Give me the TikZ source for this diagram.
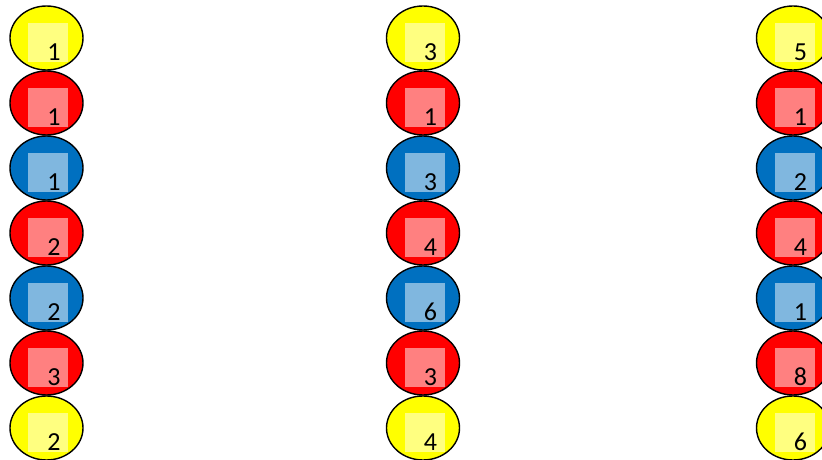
\documentclass[tikz,border=0pt]{standalone}
\usepackage{fontspec}
\setmainfont{Carlito}
\usepackage{xcolor}
\usetikzlibrary{shapes.geometric,positioning,calc}

\definecolor{beadyellow}{HTML}{FFFF00}
\definecolor{beadred}{HTML}{FF0000}
\definecolor{beadblue}{HTML}{0070C0}

\tikzset{
  bead/.style={ellipse, draw=black, line width=1.4pt, minimum width=73pt, minimum height=64pt, inner sep=0pt},
  patch/.style={rectangle, fill=white, fill opacity=0.5, minimum width=40pt, minimum height=39pt, inner sep=0pt},
  tag/.style={anchor=base, inner sep=0pt, font=\fontsize{26}{30}\selectfont}
}

\begin{document}
\begin{tikzpicture}[x=1pt, y=1pt]
  % Frame
  \useasboundingbox (0, 0) rectangle (822, 459);
  \clip (0, 0) rectangle (822, 459);

  % Three columns of seven beads: colour / number, top to bottom
  \foreach \col/\cx/\nums in {a/46.5/{1,1,1,2,2,3,2}, b/423/{3,1,3,4,6,3,4}, c/793/{5,1,2,4,1,8,6}} {
    \foreach \clr [count=\row] in {beadyellow, beadred, beadblue, beadred, beadblue, beadred, beadyellow} {
      \pgfmathsetmacro{\cy}{459 - 38 - 65*(\row-1)}
      \node[bead, fill=\clr] (\col\row) at (\cx, \cy) {};
      \node[patch] (\col\row p) at ($(\col\row)+(1.5, -4.5)$) {};
      \pgfmathtruncatemacro{\num}{{\nums}[\row-1]}
      \node[tag] (\col\row t) at ($(\col\row)+(7.5, -22)$) {\num};
    }
  }
\end{tikzpicture}
\end{document}
